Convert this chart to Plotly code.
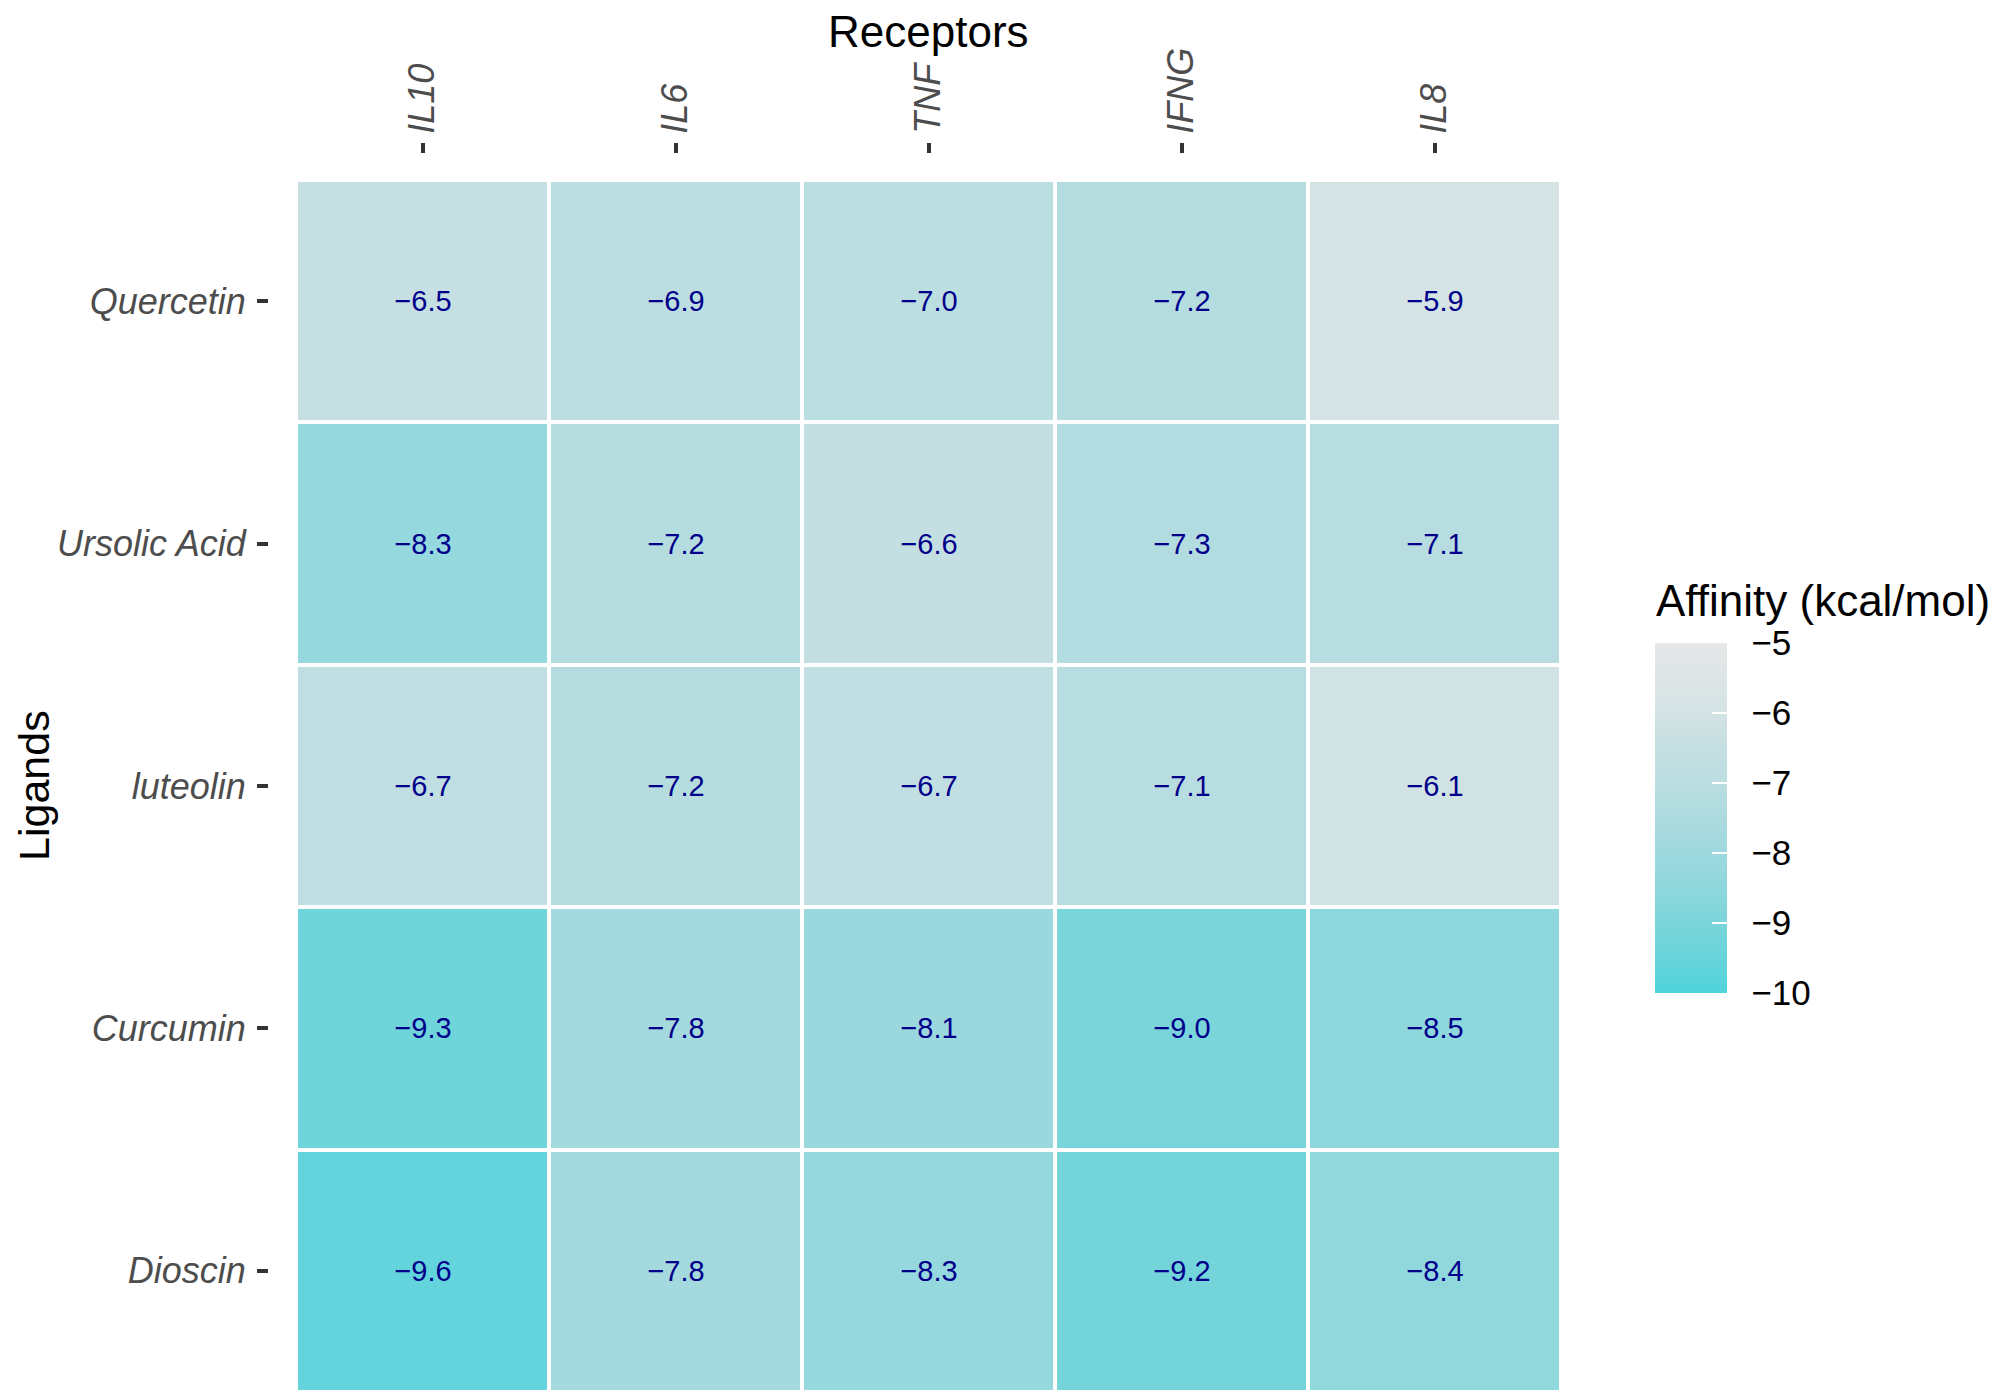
import plotly.graph_objects as go

receptors = ["IL10", "IL6", "TNF", "IFNG", "IL8"]
ligands = ["Quercetin", "Ursolic Acid", "luteolin", "Curcumin", "Dioscin"]
affinity = [
    [-6.5, -6.9, -7.0, -7.2, -5.9],
    [-8.3, -7.2, -6.6, -7.3, -7.1],
    [-6.7, -7.2, -6.7, -7.1, -6.1],
    [-9.3, -7.8, -8.1, -9.0, -8.5],
    [-9.6, -7.8, -8.3, -9.2, -8.4],
]
cbar_ticks = [-5, -6, -7, -8, -9, -10]

W, H = 2000, 1394
OX, OY = 8, 8  # page body margin offset
FONT = "Liberation Sans, Arial, sans-serif"


def px(x):
    return (x - OX) / W


def py(y):
    return 1 - (y - OY) / H


colorscale = [
    [0.00, "#4FD3DB"],
    [0.08, "#63D4DB"],
    [0.14, "#6FD5DA"],
    [0.20, "#7AD5DA"],
    [0.34, "#95D8DE"],
    [0.44, "#A4D9DE"],
    [0.60, "#BBDEE1"],
    [0.70, "#C5DFE2"],
    [0.82, "#D5E3E4"],
    [1.00, "#E6E7E8"],
]

text = [[f"{v:.1f}".replace("-", "\u2212") for v in row] for row in affinity]

fig = go.Figure(
    go.Heatmap(
        z=affinity,
        x=receptors,
        y=ligands,
        text=text,
        texttemplate="%{text}",
        textfont=dict(family=FONT, size=29, color="#00008B"),
        colorscale=colorscale,
        zmin=-10,
        zmax=-5,
        xgap=4,
        ygap=4,
        colorbar=dict(
            x=px(1655 - 10),
            xanchor="left",
            y=py(818),
            yanchor="middle",
            len=370,
            lenmode="pixels",
            thickness=72,
            thicknessmode="pixels",
            outlinewidth=0,
            tickvals=cbar_ticks,
            ticktext=["\u00a0\u2009" + f"{t}".replace("-", "\u2212") for t in cbar_ticks],
            ticks="inside",
            ticklen=15,
            tickwidth=2,
            tickcolor="white",
            tickfont=dict(family=FONT, size=35, color="black"),
        ),
    )
)

fig.update_layout(
    width=W,
    height=H,
    margin=dict(l=0, r=0, t=0, b=0),
    paper_bgcolor="white",
    plot_bgcolor="white",
    xaxis=dict(
        domain=[px(296), px(1561)],
        side="top",
        anchor="free",
        position=py(153),
        categoryorder="array",
        categoryarray=receptors,
        tickangle=-90,
        ticks="outside",
        ticklen=10,
        tickwidth=3.5,
        tickcolor="#333333",
        ticklabelstandoff=2,
        tickfont=dict(family=FONT, size=36, color="#4D4D4D", style="italic"),
        showgrid=False,
        zeroline=False,
        showline=False,
    ),
    yaxis=dict(
        domain=[py(1392), py(180)],
        anchor="free",
        position=px(268),
        autorange="reversed",
        categoryorder="array",
        categoryarray=ligands,
        ticks="outside",
        ticklen=11,
        tickwidth=3.5,
        tickcolor="#333333",
        ticklabelstandoff=4,
        tickfont=dict(family=FONT, size=36, color="#4D4D4D", style="italic"),
        showgrid=False,
        zeroline=False,
        showline=False,
    ),
    annotations=[
        dict(
            text="Receptors",
            x=px((296 + 1561) / 2),
            y=1,
            yshift=3,
            xref="paper",
            yref="paper",
            xanchor="center",
            yanchor="top",
            showarrow=False,
            font=dict(family=FONT, size=44, color="black"),
        ),
        dict(
            text="Ligands",
            x=px(34),
            y=py(786),
            xref="paper",
            yref="paper",
            xanchor="center",
            yanchor="middle",
            textangle=-90,
            showarrow=False,
            font=dict(family=FONT, size=43, color="black"),
        ),
        dict(
            text="Affinity (kcal/mol)",
            x=px(1654),
            y=py(627),
            xref="paper",
            yref="paper",
            xanchor="left",
            yanchor="bottom",
            showarrow=False,
            font=dict(family=FONT, size=44, color="black"),
        ),
    ],
)

fig.write_html("out.html")
